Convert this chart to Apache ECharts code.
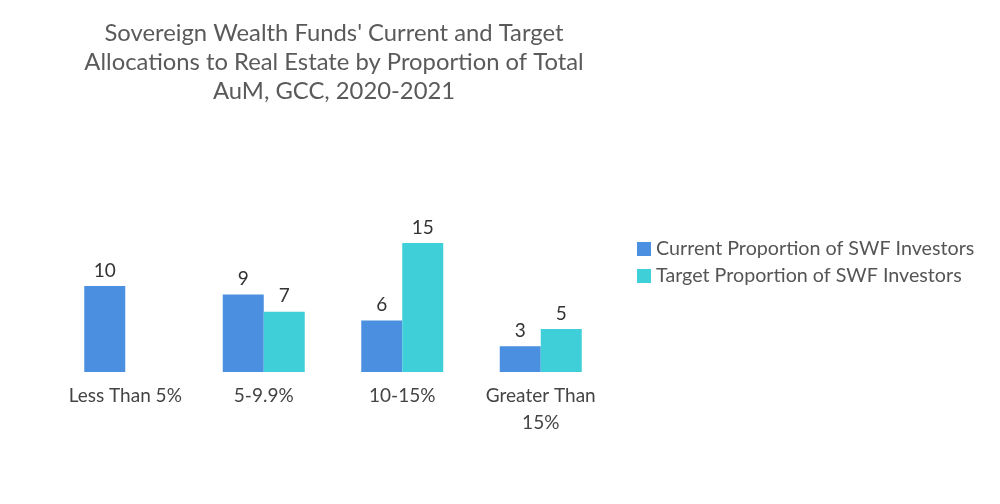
<!DOCTYPE html>
<html><head><meta charset="utf-8">
<script src="https://cdn.jsdelivr.net/npm/echarts@6/dist/echarts.min.js"></script>
<style>html,body{margin:0;padding:0;background:#fff}#c{width:1000px;height:504px}</style>
</head><body><div id="c"></div>
<script>
const categories = ['Less Than 5%', '5-9.9%', '10-15%', 'Greater Than\n15%'];
const currentValues = [10, 9, 6, 3];
const targetValues = [null, 7, 15, 5];
const seriesNames = ['Current Proportion of SWF Investors', 'Target Proportion of SWF Investors'];
const titleText = "Sovereign Wealth Funds' Current and Target\nAllocations to Real Estate by Proportion of Total\nAuM, GCC, 2020-2021";
const FONT = 'Lato';
const chart = echarts.init(document.getElementById('c'));
const labelCfg = {show: true, position: 'top', distance: 6, color: '#333', fontSize: 19, fontFamily: FONT};
chart.setOption({
  animation: false,
  title: {text: titleText, left: 329, textAlign: 'center', top: 14,
    textStyle: {fontFamily: FONT, fontSize: 23.8, fontWeight: 'normal', color: '#5a5a5a', lineHeight: 29}},
  legend: {orient: 'vertical', left: 632, top: 234, itemWidth: 14, itemHeight: 14, itemGap: 7,
    icon: 'rect', textStyle: {fontFamily: FONT, fontSize: 19.7, color: '#555'}},
  grid: {left: 56, right: 390, top: 243, bottom: 132},
  xAxis: {type: 'category', data: categories,
    axisLine: {show: false}, axisTick: {show: false},
    axisLabel: {fontFamily: FONT, fontSize: 19, color: '#444', margin: 10, lineHeight: 27, interval: 0}},
  yAxis: {type: 'value', min: 0, max: 15, show: false, splitLine: {show: false}},
  series: [
    {name: seriesNames[0], type: 'bar', data: currentValues, barWidth: '29.6%', barGap: '0%',
      itemStyle: {color: '#4a8fe0'}, label: labelCfg},
    {name: seriesNames[1], type: 'bar', data: targetValues, barWidth: '29.6%',
      itemStyle: {color: '#3ecfd9'}, label: labelCfg}
  ]
});
</script></body></html>
